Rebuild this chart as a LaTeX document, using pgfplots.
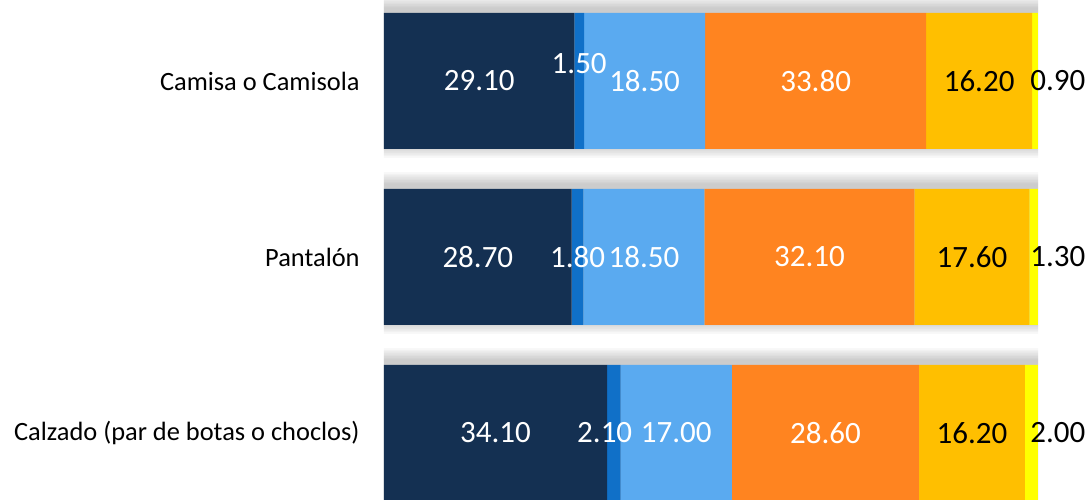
\documentclass[border=0pt]{standalone}
\usepackage{fontspec}
\setmainfont{Carlito}
\usepackage{pgfplots}
\usepackage{pgfplotstable}
\pgfplotsset{compat=1.18}
\definecolor{cNavy}{HTML}{143052}
\definecolor{cBlue}{HTML}{1070C8}
\definecolor{cLight}{HTML}{5AAAF0}
\definecolor{cOrange}{HTML}{FF8420}
\definecolor{cGold}{HTML}{FFBF00}
\definecolor{cYellow}{HTML}{FFFF00}

% values; ox, oy = small label nudges for the narrow second segment
\pgfplotstableread{
y a b c d e f ox oy
2 29.1 1.5 18.5 33.8 16.2 0.9 0 0.097
1 28.7 1.8 18.5 32.1 17.6 1.3 0 0
0 34.1 2.1 17.0 28.6 16.2 2.0 -1.4 0
}\data

\pgfplotsset{
  geom/.style={
    x=3.27pt, y=88pt,
    xmin=0, xmax=100, ymin=-0.375, ymax=2.4602,
    enlargelimits=false, clip=false,
    /pgf/number format/fixed,
    /pgf/number format/fixed zerofill,
    /pgf/number format/precision=2,
    /pgf/number format/assume math mode=true,
  },
  seg/.style={draw=none, fill=#1},
  shad/.style={draw=none, fill=black, fill opacity=0.026, bar width=#1, bar shift=0pt, yshift=2pt},
  lbl/.style={draw=none, mark=none, point meta=explicit, nodes near coords,
    every node near coord/.append style={anchor=center, inner sep=0pt, text=#1,
      font=\fontsize{15.5}{18}\selectfont}},
}

\begin{document}
\begin{tikzpicture}
% soft shadow behind the bars
\begin{axis}[geom, hide axis, xbar]
\addplot[shad=69.6pt] table[x expr=\thisrow{a}+\thisrow{b}+\thisrow{c}+\thisrow{d}+\thisrow{e}+\thisrow{f}, y=y] {\data};
\addplot[shad=71.2pt] table[x expr=\thisrow{a}+\thisrow{b}+\thisrow{c}+\thisrow{d}+\thisrow{e}+\thisrow{f}, y=y] {\data};
\addplot[shad=72.8pt] table[x expr=\thisrow{a}+\thisrow{b}+\thisrow{c}+\thisrow{d}+\thisrow{e}+\thisrow{f}, y=y] {\data};
\addplot[shad=74.4pt] table[x expr=\thisrow{a}+\thisrow{b}+\thisrow{c}+\thisrow{d}+\thisrow{e}+\thisrow{f}, y=y] {\data};
\addplot[shad=76.0pt] table[x expr=\thisrow{a}+\thisrow{b}+\thisrow{c}+\thisrow{d}+\thisrow{e}+\thisrow{f}, y=y] {\data};
\addplot[shad=77.6pt] table[x expr=\thisrow{a}+\thisrow{b}+\thisrow{c}+\thisrow{d}+\thisrow{e}+\thisrow{f}, y=y] {\data};
\addplot[shad=79.2pt] table[x expr=\thisrow{a}+\thisrow{b}+\thisrow{c}+\thisrow{d}+\thisrow{e}+\thisrow{f}, y=y] {\data};
\addplot[shad=80.8pt] table[x expr=\thisrow{a}+\thisrow{b}+\thisrow{c}+\thisrow{d}+\thisrow{e}+\thisrow{f}, y=y] {\data};
\end{axis}
% bars
\begin{axis}[
  geom,
  xbar stacked,
  bar width=68pt,
  axis line style={draw=none},
  tick style={draw=none},
  xtick=\empty,
  ytick={0,1,2},
  yticklabels={Calzado (par de botas o choclos), Pantalón, Camisa o Camisola},
  yticklabel style={font=\fontsize{13.2}{15}\selectfont, inner sep=0pt, xshift=-12pt},
]
\addplot[seg=cNavy] table[x=a, y=y] {\data};
\addplot[seg=cBlue] table[x=b, y=y] {\data};
\addplot[seg=cLight] table[x=c, y=y] {\data};
\addplot[seg=cOrange] table[x=d, y=y] {\data};
\addplot[seg=cGold] table[x=e, y=y] {\data};
\addplot[seg=cYellow] table[x=f, y=y] {\data};
\end{axis}
% value labels
\begin{axis}[geom, hide axis]
\addplot[lbl=white] table[x expr=\thisrow{a}/2, y=y, meta=a] {\data};
\addplot[lbl=white] table[x expr=\thisrow{a}+\thisrow{b}/2+\thisrow{ox}, y expr=\thisrow{y}+\thisrow{oy}, meta=b] {\data};
\addplot[lbl=white] table[x expr=\thisrow{a}+\thisrow{b}+\thisrow{c}/2, y=y, meta=c] {\data};
\addplot[lbl=white] table[x expr=\thisrow{a}+\thisrow{b}+\thisrow{c}+\thisrow{d}/2, y=y, meta=d] {\data};
\addplot[lbl=black] table[x expr=\thisrow{a}+\thisrow{b}+\thisrow{c}+\thisrow{d}+\thisrow{e}/2, y=y, meta=e] {\data};
\addplot[lbl=black, every node near coord/.append style={anchor=west, xshift=-4pt}]
  table[x expr=\thisrow{a}+\thisrow{b}+\thisrow{c}+\thisrow{d}+\thisrow{e}+\thisrow{f}, y=y, meta=f] {\data};
\end{axis}
\pgfresetboundingbox
\useasboundingbox ([xshift=-192pt]current axis.south west) rectangle ([xshift=25.5pt]current axis.north east);
\end{tikzpicture}
\end{document}
